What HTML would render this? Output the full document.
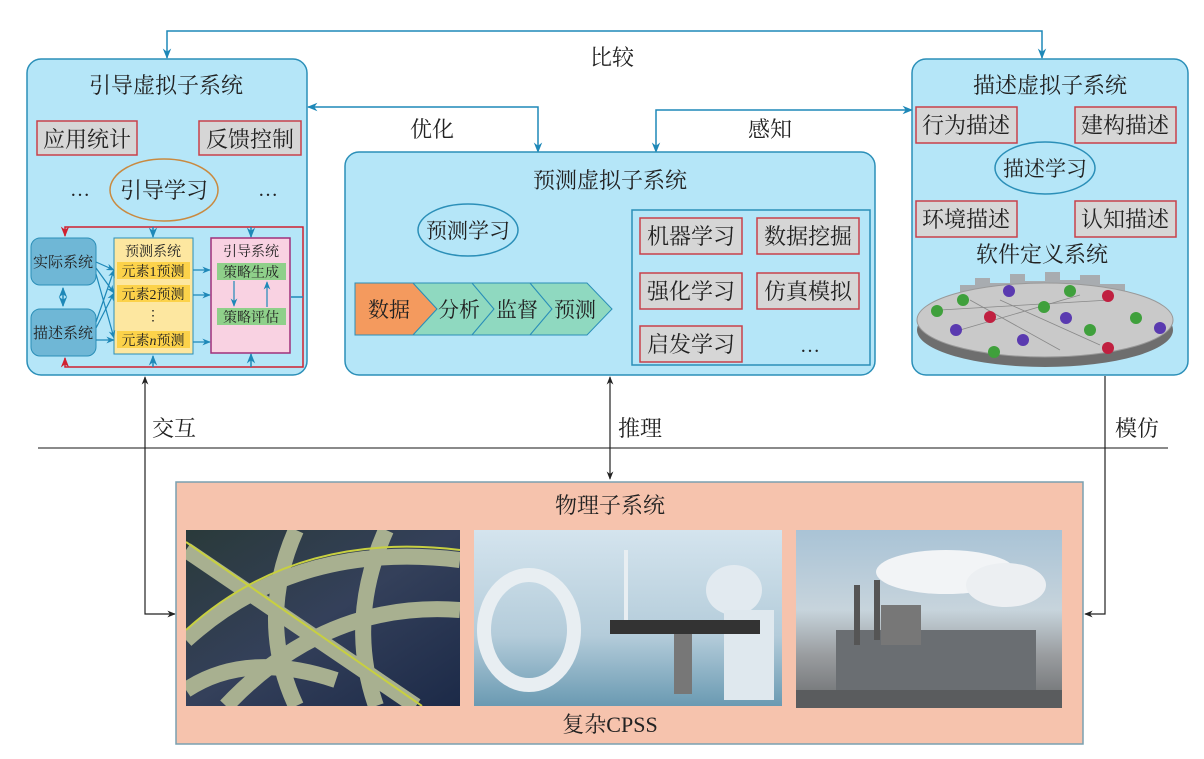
<!DOCTYPE html>
<html><head><meta charset="utf-8"><style>
html,body{margin:0;padding:0;background:#fff}
svg{display:block}
text{font-family:"Liberation Serif","Noto Serif CJK SC",serif;fill:#222}
</style></head><body>
<svg width="1204" height="759" viewBox="0 0 1204 759" xmlns="http://www.w3.org/2000/svg">
<defs>
<marker id="a" viewBox="0 0 10 10" refX="9" refY="5" markerWidth="7" markerHeight="7" orient="auto-start-reverse"><path d="M0,1 L10,5 L0,9 L3,5z" fill="#1e88b8"/></marker>
<marker id="k" viewBox="0 0 10 10" refX="9" refY="5" markerWidth="7" markerHeight="7" orient="auto-start-reverse"><path d="M0,1 L10,5 L0,9 L3,5z" fill="#222"/></marker>
<marker id="r" viewBox="0 0 10 10" refX="9" refY="5" markerWidth="7" markerHeight="7" orient="auto-start-reverse"><path d="M0,1 L10,5 L0,9 L3,5z" fill="#d02030"/></marker>
<linearGradient id="hw" x1="0" y1="0" x2="1" y2="1"><stop offset="0" stop-color="#2a3a3a"/><stop offset=".5" stop-color="#34405a"/><stop offset="1" stop-color="#1c2a48"/></linearGradient>
<linearGradient id="hos" x1="0" y1="0" x2="0" y2="1"><stop offset="0" stop-color="#d4e4ee"/><stop offset=".6" stop-color="#b4ccda"/><stop offset="1" stop-color="#6a9ab2"/></linearGradient>
<linearGradient id="fac" x1="0" y1="0" x2="0" y2="1"><stop offset="0" stop-color="#a9c3d6"/><stop offset=".45" stop-color="#c7d4dc"/><stop offset=".7" stop-color="#9a9da0"/><stop offset="1" stop-color="#6a6c6e"/></linearGradient>
</defs>

<polyline points="167,58 167,31 1042,31 1042,58" fill="none" stroke="#1e88b8" stroke-width="1.5" marker-start="url(#a)" marker-end="url(#a)"/>
<text x="612" y="65" font-size="22" text-anchor="middle">比较</text>
<polyline points="308,107 538,107 538,152" fill="none" stroke="#1e88b8" stroke-width="1.5" marker-start="url(#a)" marker-end="url(#a)"/>
<text x="432" y="137" font-size="22" text-anchor="middle">优化</text>
<polyline points="656,152 656,110 912,110" fill="none" stroke="#1e88b8" stroke-width="1.5" marker-start="url(#a)" marker-end="url(#a)"/>
<text x="770" y="137" font-size="22" text-anchor="middle">感知</text>

<rect x="27" y="59" width="280" height="316" rx="14" fill="#b5e6f8" stroke="#2b8fb8" stroke-width="1.5"/>
<text x="166" y="93" font-size="22" text-anchor="middle">引导虚拟子系统</text>
<rect x="37" y="121" width="100" height="34" fill="#d6d6d6" stroke="#c8404a" stroke-width="1.5"/>
<text x="87" y="147" font-size="22" text-anchor="middle">应用统计</text>
<rect x="199" y="121" width="102" height="34" fill="#d6d6d6" stroke="#c8404a" stroke-width="1.5"/>
<text x="250" y="147" font-size="22" text-anchor="middle">反馈控制</text>
<text x="80" y="196" font-size="20" text-anchor="middle">…</text>
<text x="268" y="196" font-size="20" text-anchor="middle">…</text>
<ellipse cx="164" cy="190" rx="54" ry="31" fill="none" stroke="#c98a40" stroke-width="1.5"/>
<text x="164" y="198" font-size="22" text-anchor="middle">引导学习</text>

<polyline points="303,297 303,227 65,227 65,236" fill="none" stroke="#d02030" stroke-width="1.5" marker-end="url(#r)"/>
<polyline points="303,297 303,367 65,367 65,358" fill="none" stroke="#d02030" stroke-width="1.5" marker-end="url(#r)"/>
<line x1="291" y1="297" x2="303" y2="297" stroke="#1e88b8" stroke-width="1.5"/>
<line x1="153" y1="227" x2="153" y2="237" stroke="#1e88b8" stroke-width="1.5" marker-end="url(#a)"/>
<line x1="251" y1="227" x2="251" y2="237" stroke="#1e88b8" stroke-width="1.5" marker-end="url(#a)"/>
<line x1="153" y1="367" x2="153" y2="356" stroke="#1e88b8" stroke-width="1.5" marker-end="url(#a)"/>
<line x1="251" y1="367" x2="251" y2="354" stroke="#1e88b8" stroke-width="1.5" marker-end="url(#a)"/>
<rect x="31" y="238" width="65" height="47" rx="9" fill="#6fb7d6" stroke="#2b8fb8"/>
<text x="63" y="267" font-size="15" text-anchor="middle">实际系统</text>
<rect x="31" y="309" width="65" height="47" rx="9" fill="#6fb7d6" stroke="#2b8fb8"/>
<text x="63" y="338" font-size="15" text-anchor="middle">描述系统</text>
<line x1="63" y1="288" x2="63" y2="306" stroke="#1e88b8" stroke-width="1.5" marker-start="url(#a)" marker-end="url(#a)"/>
<rect x="114" y="238" width="79" height="116" fill="#fde7a0" stroke="#2b8fb8"/>
<text x="153" y="256" font-size="14" text-anchor="middle">预测系统</text>
<rect x="117" y="262" width="73" height="17" fill="#fcd24a"/>
<text x="153" y="276" font-size="14" text-anchor="middle">元素1预测</text>
<rect x="117" y="285" width="73" height="17" fill="#fcd24a"/>
<text x="153" y="299" font-size="14" text-anchor="middle">元素2预测</text>
<text x="153" y="320" font-size="14" text-anchor="middle">⋮</text>
<rect x="117" y="331" width="73" height="17" fill="#fcd24a"/>
<text x="153" y="345" font-size="14" text-anchor="middle">元素<tspan font-style="italic">n</tspan>预测</text>
<g stroke="#1e88b8" stroke-width="1.2" fill="none" marker-end="url(#a)">
<line x1="96" y1="262" x2="114" y2="270"/><line x1="96" y1="268" x2="114" y2="293"/><line x1="96" y1="274" x2="114" y2="338"/>
<line x1="96" y1="322" x2="114" y2="270"/><line x1="96" y1="328" x2="114" y2="293"/><line x1="96" y1="340" x2="114" y2="340"/>
<line x1="193" y1="270" x2="210" y2="270"/><line x1="193" y1="295" x2="210" y2="295"/><line x1="193" y1="342" x2="210" y2="342"/>
</g>
<rect x="211" y="238" width="79" height="115" fill="#f9d2e2" stroke="#a0307a" stroke-width="1.5"/>
<text x="251" y="256" font-size="14" text-anchor="middle">引导系统</text>
<rect x="217" y="263" width="69" height="17" fill="#8fd08a"/>
<text x="251" y="277" font-size="14" text-anchor="middle">策略生成</text>
<rect x="217" y="308" width="69" height="17" fill="#8fd08a"/>
<text x="251" y="322" font-size="14" text-anchor="middle">策略评估</text>
<line x1="234" y1="281" x2="234" y2="306" stroke="#1e88b8" stroke-width="1.2" marker-end="url(#a)"/>
<line x1="267" y1="307" x2="267" y2="282" stroke="#1e88b8" stroke-width="1.2" marker-end="url(#a)"/>

<rect x="345" y="152" width="530" height="223" rx="14" fill="#b5e6f8" stroke="#2b8fb8" stroke-width="1.5"/>
<text x="610" y="188" font-size="22" text-anchor="middle">预测虚拟子系统</text>
<ellipse cx="468" cy="230" rx="50" ry="26" fill="none" stroke="#2b8fb8" stroke-width="1.5"/>
<text x="468" y="238" font-size="21" text-anchor="middle">预测学习</text>
<polygon points="355,283 413,283 437,309 413,335 355,335" fill="#f49a5e" stroke="#2b8fb8"/>
<polygon points="413,283 472,283 494,309 472,335 413,335 437,309" fill="#8fd9c0" stroke="#2b8fb8"/>
<polygon points="472,283 530,283 552,309 530,335 472,335 494,309" fill="#8fd9c0" stroke="#2b8fb8"/>
<polygon points="530,283 587,283 612,309 587,335 530,335 552,309" fill="#8fd9c0" stroke="#2b8fb8"/>
<text x="389" y="317" font-size="21" text-anchor="middle">数据</text>
<text x="459" y="317" font-size="21" text-anchor="middle">分析</text>
<text x="517" y="317" font-size="21" text-anchor="middle">监督</text>
<text x="575" y="317" font-size="21" text-anchor="middle">预测</text>
<rect x="632" y="210" width="238" height="155" fill="none" stroke="#2b8fb8" stroke-width="1.5"/>
<g font-size="22" text-anchor="middle">
<rect x="640" y="218" width="102" height="36" fill="#d6d6d6" stroke="#c8404a" stroke-width="1.5"/><text x="691" y="244">机器学习</text>
<rect x="757" y="218" width="102" height="36" fill="#d6d6d6" stroke="#c8404a" stroke-width="1.5"/><text x="808" y="244">数据挖掘</text>
<rect x="640" y="273" width="102" height="36" fill="#d6d6d6" stroke="#c8404a" stroke-width="1.5"/><text x="691" y="299">强化学习</text>
<rect x="757" y="273" width="102" height="36" fill="#d6d6d6" stroke="#c8404a" stroke-width="1.5"/><text x="808" y="299">仿真模拟</text>
<rect x="640" y="326" width="102" height="36" fill="#d6d6d6" stroke="#c8404a" stroke-width="1.5"/><text x="691" y="352">启发学习</text>
</g>
<text x="810" y="352" font-size="20" text-anchor="middle">…</text>

<rect x="912" y="59" width="276" height="316" rx="14" fill="#b5e6f8" stroke="#2b8fb8" stroke-width="1.5"/>
<text x="1050" y="93" font-size="22" text-anchor="middle">描述虚拟子系统</text>
<g font-size="22" text-anchor="middle">
<rect x="916" y="107" width="101" height="36" fill="#d6d6d6" stroke="#c8404a" stroke-width="1.5"/><text x="966" y="133">行为描述</text>
<rect x="1075" y="107" width="101" height="36" fill="#d6d6d6" stroke="#c8404a" stroke-width="1.5"/><text x="1125" y="133">建构描述</text>
<rect x="916" y="201" width="101" height="36" fill="#d6d6d6" stroke="#c8404a" stroke-width="1.5"/><text x="966" y="227">环境描述</text>
<rect x="1075" y="201" width="101" height="36" fill="#d6d6d6" stroke="#c8404a" stroke-width="1.5"/><text x="1125" y="227">认知描述</text>
</g>
<ellipse cx="1045" cy="168" rx="50" ry="26" fill="none" stroke="#2b8fb8" stroke-width="1.5"/>
<text x="1045" y="176" font-size="21" text-anchor="middle">描述学习</text>
<text x="1042" y="262" font-size="22" text-anchor="middle">软件定义系统</text>
<g>
<path d="M960,295 L960,285 L975,285 L975,278 L990,278 L990,283 L1010,283 L1010,274 L1025,274 L1025,281 L1045,281 L1045,272 L1060,272 L1060,280 L1080,280 L1080,275 L1100,275 L1100,284 L1125,284 L1125,295z" fill="#a8acb0"/>
<ellipse cx="1045" cy="330" rx="128" ry="37" fill="#6e6e6e"/>
<ellipse cx="1045" cy="320" rx="128" ry="37" fill="#c9c9c9" stroke="#999"/>
<g stroke="#888" stroke-width=".8"><line x1="940" y1="310" x2="1110" y2="300"/><line x1="960" y1="330" x2="1080" y2="295"/><line x1="1000" y1="300" x2="1100" y2="345"/><line x1="970" y1="300" x2="1060" y2="350"/></g>
<g>
<circle cx="937" cy="311" r="6" fill="#3fa03c"/><circle cx="963" cy="300" r="6" fill="#3fa03c"/><circle cx="1009" cy="291" r="6" fill="#5a3ab0"/>
<circle cx="1070" cy="291" r="6" fill="#3fa03c"/><circle cx="1108" cy="296" r="6" fill="#c02040"/><circle cx="990" cy="317" r="6" fill="#c02040"/>
<circle cx="1044" cy="307" r="6" fill="#3fa03c"/><circle cx="1066" cy="318" r="6" fill="#5a3ab0"/><circle cx="1136" cy="318" r="6" fill="#3fa03c"/>
<circle cx="956" cy="330" r="6" fill="#5a3ab0"/><circle cx="1023" cy="340" r="6" fill="#5a3ab0"/><circle cx="1090" cy="330" r="6" fill="#3fa03c"/>
<circle cx="1160" cy="328" r="6" fill="#5a3ab0"/><circle cx="994" cy="352" r="6" fill="#3fa03c"/><circle cx="1108" cy="348" r="6" fill="#c02040"/>
</g>
</g>

<line x1="38" y1="448" x2="1168" y2="448" stroke="#444" stroke-width="1.2"/>
<polyline points="145,377 145,614 175,614" fill="none" stroke="#222" stroke-width="1.2" marker-start="url(#k)" marker-end="url(#k)"/>
<text x="174" y="436" font-size="22" text-anchor="middle">交互</text>
<line x1="610" y1="377" x2="610" y2="479" stroke="#222" stroke-width="1.2" marker-start="url(#k)" marker-end="url(#k)"/>
<text x="640" y="436" font-size="22" text-anchor="middle">推理</text>
<polyline points="1105,376 1105,614 1085,614" fill="none" stroke="#222" stroke-width="1.2" marker-end="url(#k)"/>
<text x="1137" y="436" font-size="22" text-anchor="middle">模仿</text>

<rect x="176" y="482" width="907" height="262" fill="#f6c3ad" stroke="#7aa0b0" stroke-width="1.5"/>
<text x="610" y="513" font-size="22" text-anchor="middle">物理子系统</text>
<svg x="186" y="530" width="274" height="176" viewBox="0 0 274 176">
<rect width="274" height="176" fill="url(#hw)"/>
<g stroke="#a8b090" stroke-width="16" fill="none"><path d="M0,20 L230,176"/><path d="M0,110 Q110,10 274,30"/><path d="M40,176 Q140,70 274,80"/><path d="M110,0 Q70,90 110,176"/><path d="M200,0 Q160,90 190,176"/><path d="M0,160 Q60,120 150,150"/></g>
<g stroke="#c8d040" stroke-width="2" fill="none"><path d="M0,12 L236,176"/><path d="M0,100 Q110,0 274,20"/></g>
</svg>
<svg x="474" y="530" width="308" height="176" viewBox="0 0 308 176">
<rect width="308" height="176" fill="url(#hos)"/>
<ellipse cx="55" cy="100" rx="45" ry="55" fill="none" stroke="#e8eef2" stroke-width="14"/>
<ellipse cx="260" cy="60" rx="28" ry="25" fill="#e2eaf0"/>
<rect x="150" y="20" width="4" height="70" fill="#e8eef2"/>
<rect x="250" y="80" width="50" height="90" fill="#dfe8ee"/>
<rect x="136" y="90" width="150" height="14" fill="#333"/><rect x="200" y="104" width="18" height="60" fill="#777"/>
</svg>
<svg x="796" y="530" width="266" height="178" viewBox="0 0 266 178">
<rect width="266" height="178" fill="url(#fac)"/>
<ellipse cx="150" cy="42" rx="70" ry="22" fill="#f2f4f6"/><ellipse cx="210" cy="55" rx="40" ry="22" fill="#eceff2"/>
<rect x="40" y="100" width="200" height="78" fill="#6a6e72"/><rect x="85" y="75" width="40" height="40" fill="#777"/>
<rect x="58" y="55" width="6" height="60" fill="#555"/><rect x="78" y="50" width="6" height="60" fill="#555"/>
<rect x="0" y="160" width="266" height="18" fill="#5a5c5e"/>
</svg>
<text x="610" y="732" font-size="22" text-anchor="middle">复杂CPSS</text>
</svg>
</body></html>
